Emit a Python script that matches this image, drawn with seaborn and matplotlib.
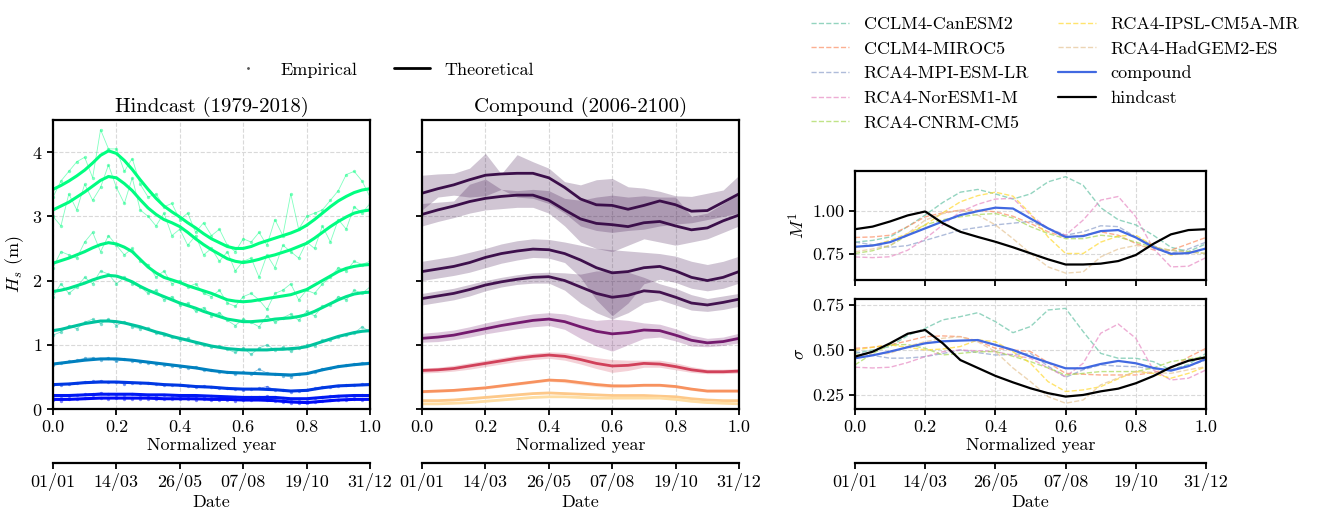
import numpy as np
import matplotlib
matplotlib.use('Agg')
import matplotlib.pyplot as plt
import seaborn as sns
from matplotlib.lines import Line2D
from matplotlib.ticker import FormatStrFormatter

# ---------------- data ----------------
date_ticks = [0.0, 0.2, 0.4, 0.6, 0.8, 1.0]
date_labels = ['01/01', '14/03', '26/05', '07/08', '19/10', '31/12']

# Hindcast theoretical quantile curves (top to bottom)
hc_q1 = [3.42, 3.48, 3.55, 3.63, 3.72, 3.83, 3.95, 4.02, 3.98, 3.87, 3.73, 3.57, 3.42, 3.28, 3.16, 3.07, 2.99, 2.90, 2.82, 2.73, 2.65,
         2.59, 2.53, 2.50, 2.50, 2.53, 2.58, 2.62, 2.66, 2.70, 2.74, 2.79, 2.86, 2.95, 3.05, 3.15, 3.24, 3.31, 3.37, 3.41, 3.43]
hc_q2 = [3.10, 3.16, 3.22, 3.30, 3.38, 3.47, 3.56, 3.62, 3.60, 3.51, 3.40, 3.26, 3.13, 3.03, 2.95, 2.90, 2.84, 2.75, 2.65, 2.56, 2.48,
         2.41, 2.34, 2.30, 2.28, 2.30, 2.33, 2.37, 2.40, 2.44, 2.48, 2.53, 2.58, 2.66, 2.75, 2.84, 2.92, 2.99, 3.05, 3.08, 3.10]
hc_q3 = [2.27, 2.31, 2.35, 2.40, 2.45, 2.51, 2.56, 2.59, 2.57, 2.52, 2.45, 2.33, 2.21, 2.12, 2.05, 2.01, 1.97, 1.92, 1.88, 1.84, 1.80,
         1.75, 1.70, 1.68, 1.67, 1.68, 1.70, 1.72, 1.74, 1.76, 1.78, 1.82, 1.86, 1.93, 2.00, 2.07, 2.14, 2.19, 2.22, 2.24, 2.25]
hc_q4 = [1.83, 1.85, 1.88, 1.92, 1.96, 2.01, 2.05, 2.08, 2.07, 2.03, 1.98, 1.91, 1.85, 1.80, 1.75, 1.70, 1.65, 1.61, 1.57, 1.52, 1.48,
         1.44, 1.40, 1.38, 1.36, 1.36, 1.37, 1.38, 1.40, 1.41, 1.42, 1.44, 1.47, 1.52, 1.58, 1.64, 1.70, 1.75, 1.79, 1.81, 1.82]
hc_q5 = [1.22, 1.24, 1.27, 1.30, 1.33, 1.35, 1.37, 1.37, 1.36, 1.34, 1.31, 1.28, 1.24, 1.20, 1.17, 1.13, 1.10, 1.07, 1.04, 1.01, 0.98,
         0.96, 0.94, 0.93, 0.92, 0.92, 0.92, 0.92, 0.93, 0.93, 0.94, 0.95, 0.97, 1.01, 1.05, 1.09, 1.13, 1.16, 1.19, 1.21, 1.22]
hc_q6 = [0.70, 0.73, 0.76, 0.78, 0.78, 0.76, 0.73, 0.70, 0.67, 0.64, 0.60, 0.57, 0.56, 0.55, 0.54, 0.53, 0.55, 0.61, 0.66, 0.69, 0.71]
hc_q7 = [0.38, 0.39, 0.41, 0.42, 0.42, 0.41, 0.40, 0.38, 0.37, 0.35, 0.34, 0.32, 0.31, 0.31, 0.30, 0.28, 0.29, 0.33, 0.36, 0.37, 0.38]
hc_q8 = [0.21, 0.21, 0.22, 0.23, 0.23, 0.23, 0.22, 0.22, 0.21, 0.21, 0.20, 0.19, 0.18, 0.18, 0.18, 0.16, 0.16, 0.18, 0.20, 0.21, 0.21]
hc_q9 = [0.15, 0.15, 0.16, 0.17, 0.17, 0.17, 0.17, 0.16, 0.16, 0.16, 0.15, 0.15, 0.14, 0.14, 0.13, 0.11, 0.10, 0.12, 0.14, 0.15, 0.15]

# Hindcast empirical quantiles
em_q1 = [3.30, 3.55, 3.70, 3.85, 3.92, 3.60, 4.35, 4.05, 4.05, 3.70, 3.90, 3.50, 3.30, 3.35, 3.15, 3.20, 2.95, 3.05, 2.75, 2.90, 2.70,
         2.80, 2.55, 2.45, 2.65, 2.60, 2.75, 2.55, 2.95, 2.70, 3.35, 2.80, 3.00, 3.05, 3.10, 3.25, 3.40, 3.65, 3.70, 3.55, 3.30]
em_q2 = [3.00, 2.85, 3.35, 3.10, 3.50, 3.25, 3.45, 3.80, 3.45, 3.20, 3.60, 3.10, 3.00, 2.85, 3.05, 2.70, 2.80, 2.55, 2.70, 2.40, 2.50,
         2.30, 2.45, 2.15, 2.30, 2.35, 2.05, 2.40, 2.20, 2.55, 2.45, 2.35, 2.60, 2.50, 2.85, 2.60, 2.95, 2.80, 3.15, 3.05, 3.20]
em_q3 = [2.20, 2.45, 2.40, 2.35, 2.60, 2.75, 2.45, 2.70, 2.55, 2.40, 2.50, 2.30, 2.25, 2.05, 2.15, 1.95, 2.00, 1.90, 1.95, 1.80, 1.75,
         1.85, 1.65, 1.60, 1.75, 1.80, 1.70, 1.55, 1.80, 1.85, 1.95, 1.70, 1.85, 1.80, 1.95, 2.05, 2.20, 2.15, 2.30, 2.25, 2.30]
em_q4 = [1.75, 1.95, 1.80, 1.90, 2.05, 1.95, 2.15, 2.10, 1.95, 2.05, 1.95, 1.90, 1.80, 1.85, 1.70, 1.75, 1.62, 1.65, 1.52, 1.58, 1.45,
         1.50, 1.38, 1.30, 1.40, 1.35, 1.28, 1.45, 1.35, 1.42, 1.48, 1.38, 1.52, 1.45, 1.60, 1.62, 1.75, 1.70, 1.85, 1.80, 1.90]
em_q5 = [1.15, 1.20, 1.30, 1.25, 1.35, 1.40, 1.33, 1.40, 1.30, 1.36, 1.28, 1.25, 1.26, 1.18, 1.15, 1.12, 1.08, 1.10, 1.02, 1.00, 0.97,
         0.98, 0.93, 0.88, 0.95, 0.85, 0.95, 1.00, 0.92, 0.96, 0.90, 0.95, 1.00, 0.98, 1.07, 1.08, 1.12, 1.15, 1.18, 1.28, 1.20]
em_q6 = [0.68, 0.72, 0.74, 0.76, 0.79, 0.80, 0.77, 0.80, 0.74, 0.78, 0.75, 0.73, 0.72, 0.70, 0.69, 0.67, 0.66, 0.64, 0.66, 0.60, 0.61,
         0.58, 0.57, 0.54, 0.57, 0.55, 0.62, 0.56, 0.55, 0.52, 0.50, 0.55, 0.56, 0.58, 0.63, 0.64, 0.67, 0.68, 0.70, 0.72, 0.73]
em_q7 = [0.37, 0.38, 0.39, 0.41, 0.42, 0.43, 0.44, 0.42, 0.42, 0.39, 0.41, 0.40, 0.41, 0.39, 0.38, 0.37, 0.37, 0.36, 0.35, 0.36, 0.34,
         0.33, 0.32, 0.31, 0.30, 0.31, 0.32, 0.35, 0.30, 0.29, 0.27, 0.28, 0.30, 0.32, 0.34, 0.35, 0.36, 0.37, 0.37, 0.39, 0.40]
em_q8 = [0.21, 0.20, 0.21, 0.22, 0.23, 0.24, 0.25, 0.23, 0.22, 0.22, 0.23, 0.22, 0.22, 0.21, 0.22, 0.21, 0.21, 0.20, 0.20, 0.19, 0.20,
         0.19, 0.18, 0.18, 0.17, 0.18, 0.19, 0.20, 0.18, 0.17, 0.15, 0.15, 0.16, 0.17, 0.19, 0.20, 0.21, 0.21, 0.21, 0.22, 0.22]
em_q9 = [0.14, 0.13, 0.15, 0.16, 0.17, 0.18, 0.17, 0.16, 0.17, 0.16, 0.16, 0.16, 0.16, 0.15, 0.16, 0.15, 0.15, 0.15, 0.14, 0.15, 0.14,
         0.14, 0.14, 0.13, 0.14, 0.14, 0.15, 0.14, 0.12, 0.11, 0.10, 0.09, 0.10, 0.11, 0.13, 0.14, 0.14, 0.14, 0.15, 0.14, 0.15]

# Compound (2006-2100) quantile curves
cp_q1 = [3.36, 3.43, 3.49, 3.57, 3.64, 3.66, 3.67, 3.67, 3.60, 3.45, 3.27, 3.18, 3.17, 3.11, 3.17, 3.24, 3.18, 3.08, 3.09, 3.22, 3.35]
cp_q2 = [3.03, 3.10, 3.16, 3.23, 3.28, 3.31, 3.33, 3.33, 3.25, 3.10, 2.96, 2.89, 2.87, 2.84, 2.90, 2.92, 2.85, 2.79, 2.82, 2.93, 3.02]
cp_q3 = [2.14, 2.18, 2.22, 2.28, 2.36, 2.42, 2.46, 2.49, 2.48, 2.42, 2.32, 2.20, 2.12, 2.14, 2.20, 2.22, 2.15, 2.05, 2.00, 2.05, 2.14]
cp_q4 = [1.72, 1.76, 1.80, 1.86, 1.93, 1.98, 2.02, 2.05, 2.06, 2.00, 1.90, 1.80, 1.74, 1.77, 1.84, 1.82, 1.74, 1.65, 1.62, 1.66, 1.71]
cp_q5 = [1.10, 1.12, 1.15, 1.20, 1.25, 1.30, 1.34, 1.38, 1.40, 1.36, 1.28, 1.21, 1.17, 1.19, 1.23, 1.22, 1.15, 1.07, 1.03, 1.05, 1.10]
cp_q6 = [0.60, 0.61, 0.63, 0.67, 0.71, 0.75, 0.79, 0.82, 0.84, 0.82, 0.77, 0.71, 0.67, 0.68, 0.71, 0.70, 0.66, 0.61, 0.58, 0.58, 0.59]
cp_q7 = [0.27, 0.28, 0.29, 0.31, 0.33, 0.36, 0.39, 0.42, 0.45, 0.44, 0.41, 0.38, 0.36, 0.36, 0.37, 0.37, 0.35, 0.31, 0.28, 0.28, 0.28]
cp_q8 = [0.13, 0.13, 0.14, 0.16, 0.18, 0.20, 0.22, 0.24, 0.25, 0.24, 0.23, 0.22, 0.21, 0.21, 0.21, 0.20, 0.19, 0.16, 0.14, 0.13, 0.13]
cp_q9 = [0.08, 0.08, 0.09, 0.10, 0.12, 0.14, 0.16, 0.18, 0.19, 0.19, 0.18, 0.17, 0.17, 0.17, 0.17, 0.17, 0.15, 0.12, 0.10, 0.09, 0.08]

# Compound model spread (upper / lower envelopes)
cp_q1_up = [3.64, 3.66, 3.67, 3.75, 3.98, 3.66, 3.96, 3.85, 3.75, 3.54, 3.49, 3.57, 3.59, 3.46, 3.44, 3.39, 3.32, 3.31, 3.36, 3.41, 3.64]
cp_q1_lo = [3.10, 3.30, 3.33, 3.30, 3.32, 3.42, 3.30, 3.28, 3.20, 3.05, 2.85, 2.78, 2.75, 2.78, 2.80, 2.85, 2.88, 2.90, 2.95, 3.00, 3.05]
cp_q2_up = [3.20, 3.22, 3.24, 3.50, 3.58, 3.42, 3.40, 3.42, 3.40, 3.28, 3.25, 3.30, 3.33, 3.30, 3.32, 3.30, 3.30, 3.00, 3.05, 3.20, 3.35]
cp_q2_lo = [2.85, 2.92, 2.98, 3.05, 3.10, 3.12, 3.14, 3.14, 3.05, 2.85, 2.60, 2.50, 2.45, 2.55, 2.65, 2.60, 2.55, 2.60, 2.65, 2.75, 2.85]
cp_q3_up = [2.30, 2.34, 2.38, 2.44, 2.50, 2.57, 2.62, 2.65, 2.64, 2.60, 2.55, 2.50, 2.48, 2.46, 2.44, 2.42, 2.38, 2.30, 2.25, 2.30, 2.38]
cp_q3_lo = [2.00, 2.04, 2.08, 2.13, 2.20, 2.27, 2.32, 2.36, 2.35, 2.28, 2.05, 1.70, 1.45, 1.65, 1.95, 2.02, 1.97, 1.88, 1.84, 1.88, 1.96]
cp_q4_up = [1.80, 1.84, 1.88, 1.94, 2.00, 2.05, 2.09, 2.12, 2.13, 2.12, 2.10, 2.15, 2.15, 2.13, 2.05, 1.95, 1.88, 1.78, 1.72, 1.76, 1.80]
cp_q4_lo = [1.62, 1.66, 1.70, 1.76, 1.84, 1.90, 1.94, 1.96, 1.96, 1.85, 1.65, 1.50, 1.40, 1.50, 1.65, 1.70, 1.62, 1.54, 1.52, 1.55, 1.60]
cp_q5_up = [1.18, 1.20, 1.23, 1.28, 1.34, 1.39, 1.44, 1.48, 1.50, 1.48, 1.42, 1.38, 1.40, 1.38, 1.34, 1.32, 1.25, 1.15, 1.10, 1.12, 1.18]
cp_q5_lo = [1.04, 1.05, 1.08, 1.12, 1.17, 1.21, 1.25, 1.28, 1.30, 1.24, 1.10, 0.98, 0.90, 1.00, 1.10, 1.12, 1.06, 0.98, 0.97, 0.99, 1.03]
cp_q6_up = [0.64, 0.65, 0.68, 0.72, 0.76, 0.80, 0.84, 0.87, 0.89, 0.88, 0.84, 0.80, 0.77, 0.76, 0.76, 0.76, 0.72, 0.66, 0.62, 0.62, 0.63]
cp_q6_lo = [0.56, 0.57, 0.59, 0.62, 0.66, 0.70, 0.74, 0.77, 0.79, 0.76, 0.70, 0.63, 0.57, 0.60, 0.65, 0.65, 0.61, 0.57, 0.55, 0.55, 0.56]
cp_q7_up = [0.29, 0.30, 0.31, 0.33, 0.35, 0.38, 0.41, 0.44, 0.48, 0.47, 0.44, 0.41, 0.39, 0.38, 0.39, 0.39, 0.37, 0.33, 0.30, 0.30, 0.30]
cp_q7_lo = [0.25, 0.26, 0.27, 0.29, 0.31, 0.34, 0.37, 0.40, 0.43, 0.41, 0.38, 0.35, 0.33, 0.34, 0.35, 0.35, 0.33, 0.29, 0.26, 0.26, 0.26]
cp_q8_up = [0.14, 0.14, 0.15, 0.17, 0.19, 0.21, 0.23, 0.25, 0.27, 0.26, 0.25, 0.23, 0.22, 0.22, 0.22, 0.21, 0.20, 0.17, 0.15, 0.14, 0.14]
cp_q8_lo = [0.12, 0.12, 0.13, 0.15, 0.17, 0.19, 0.21, 0.23, 0.24, 0.23, 0.22, 0.21, 0.20, 0.20, 0.20, 0.19, 0.18, 0.15, 0.13, 0.12, 0.12]
cp_q9_up = [0.09, 0.09, 0.10, 0.11, 0.13, 0.15, 0.17, 0.19, 0.20, 0.20, 0.19, 0.18, 0.18, 0.18, 0.18, 0.18, 0.16, 0.13, 0.11, 0.10, 0.09]
cp_q9_lo = [0.07, 0.07, 0.08, 0.09, 0.11, 0.13, 0.15, 0.17, 0.18, 0.18, 0.17, 0.16, 0.16, 0.16, 0.16, 0.16, 0.14, 0.11, 0.09, 0.08, 0.07]

# Right panels: location parameter M^1 and scale sigma
models = ['CCLM4-CanESM2', 'CCLM4-MIROC5', 'RCA4-MPI-ESM-LR', 'RCA4-NorESM1-M',
          'RCA4-CNRM-CM5', 'RCA4-IPSL-CM5A-MR', 'RCA4-HadGEM2-ES']
m_canesm = [0.82, 0.83, 0.85, 0.91, 0.977, 1.05, 1.11, 1.126, 1.10, 1.07, 1.10, 1.17, 1.20, 1.15, 1.02, 0.95, 0.92, 0.86, 0.79, 0.765, 0.81]
m_miroc = [0.847, 0.85, 0.86, 0.91, 0.967, 0.99, 1.006, 1.005, 0.996, 0.97, 0.928, 0.88, 0.847, 0.86, 0.88, 0.86, 0.812, 0.775, 0.773, 0.81, 0.847]
m_mpi = [0.82, 0.805, 0.79, 0.80, 0.83, 0.86, 0.89, 0.905, 0.92, 0.93, 0.94, 0.90, 0.86, 0.88, 0.915, 0.91, 0.85, 0.80, 0.755, 0.78, 0.82]
m_noresm = [0.734, 0.73, 0.735, 0.773, 0.84, 0.92, 0.996, 1.04, 1.07, 1.074, 0.977, 0.90, 0.86, 0.948, 1.064, 1.085, 0.967, 0.783, 0.676, 0.68, 0.73]
m_cnrm = [0.754, 0.77, 0.80, 0.86, 0.92, 0.95, 0.967, 0.98, 0.986, 0.96, 0.91, 0.87, 0.84, 0.84, 0.86, 0.85, 0.82, 0.79, 0.773, 0.765, 0.754]
m_ipsl = [0.79, 0.80, 0.83, 0.87, 0.92, 0.99, 1.054, 1.09, 1.11, 1.087, 0.986, 0.85, 0.754, 0.754, 0.82, 0.855, 0.86, 0.80, 0.744, 0.76, 0.783]
m_hadgem = [0.764, 0.78, 0.80, 0.87, 0.948, 0.985, 1.006, 0.977, 0.92, 0.84, 0.754, 0.676, 0.64, 0.647, 0.734, 0.78, 0.80, 0.79, 0.773, 0.76, 0.754]
m_compound = [0.793, 0.80, 0.82, 0.86, 0.90, 0.94, 0.977, 1.00, 1.02, 1.015, 0.957, 0.90, 0.85, 0.855, 0.884, 0.89, 0.847, 0.79, 0.752, 0.756, 0.783]
m_hindcast = [0.895, 0.91, 0.94, 0.975, 0.998, 0.93, 0.88, 0.85, 0.822, 0.79, 0.755, 0.72, 0.69, 0.69, 0.695, 0.71, 0.745, 0.81, 0.865, 0.89, 0.895]

s_canesm = [0.481, 0.50, 0.519, 0.58, 0.62, 0.667, 0.685, 0.707, 0.657, 0.596, 0.63, 0.722, 0.731, 0.602, 0.481, 0.454, 0.454, 0.435, 0.389, 0.42, 0.481]
s_miroc = [0.509, 0.515, 0.528, 0.55, 0.574, 0.578, 0.574, 0.55, 0.509, 0.50, 0.491, 0.43, 0.37, 0.365, 0.361, 0.361, 0.361, 0.375, 0.398, 0.46, 0.509]
s_mpi = [0.491, 0.47, 0.454, 0.455, 0.463, 0.48, 0.50, 0.485, 0.472, 0.475, 0.481, 0.41, 0.348, 0.39, 0.417, 0.41, 0.407, 0.395, 0.389, 0.41, 0.444]
s_noresm = [0.404, 0.40, 0.404, 0.43, 0.463, 0.49, 0.50, 0.495, 0.491, 0.47, 0.454, 0.40, 0.352, 0.426, 0.593, 0.644, 0.565, 0.389, 0.333, 0.343, 0.389]
s_cnrm = [0.417, 0.48, 0.528, 0.53, 0.509, 0.472, 0.481, 0.49, 0.491, 0.465, 0.435, 0.40, 0.361, 0.37, 0.38, 0.38, 0.38, 0.40, 0.435, 0.45, 0.463]
s_ipsl = [0.50, 0.515, 0.528, 0.515, 0.50, 0.505, 0.519, 0.556, 0.546, 0.49, 0.426, 0.324, 0.269, 0.278, 0.296, 0.34, 0.38, 0.37, 0.343, 0.37, 0.407]
s_hadgem = [0.472, 0.475, 0.481, 0.52, 0.546, 0.565, 0.574, 0.545, 0.491, 0.40, 0.324, 0.241, 0.204, 0.222, 0.306, 0.345, 0.38, 0.375, 0.37, 0.39, 0.407]
s_compound = [0.454, 0.47, 0.491, 0.515, 0.537, 0.548, 0.552, 0.555, 0.528, 0.50, 0.463, 0.43, 0.398, 0.398, 0.422, 0.439, 0.426, 0.40, 0.385, 0.41, 0.45]
s_hindcast = [0.463, 0.49, 0.537, 0.59, 0.611, 0.537, 0.444, 0.40, 0.356, 0.32, 0.287, 0.26, 0.241, 0.25, 0.27, 0.285, 0.315, 0.355, 0.404, 0.44, 0.459]

# ---------------- style ----------------
sns.set_theme(style='ticks')
plt.rcParams.update({
    'font.family': ['cmr10', 'DejaVu Serif'],
    'mathtext.fontset': 'cm',
    'axes.formatter.use_mathtext': True,
    'axes.unicode_minus': False,
    'font.size': 13,
    'axes.linewidth': 1.6,
    'xtick.major.width': 1.3, 'ytick.major.width': 1.3,
    'xtick.major.size': 4, 'ytick.major.size': 4,
    'xtick.labelsize': 13, 'ytick.labelsize': 13,
    'axes.labelsize': 13, 'axes.titlesize': 15,
    'axes.edgecolor': 'black', 'xtick.color': 'black', 'ytick.color': 'black',
    'text.color': 'black', 'axes.labelcolor': 'black',
})

W, H = 1320, 511
fig = plt.figure(figsize=(W / 100, H / 100), dpi=100)


def px_axes(x0, y0, x1, y1, **kw):
    return fig.add_axes([x0 / W, 1 - y1 / H, (x1 - x0) / W, (y1 - y0) / H], **kw)


ax1 = px_axes(53, 120, 370, 409)
ax2 = px_axes(422, 120, 739, 409, sharey=ax1)
ax3 = px_axes(855, 171, 1206, 280)
ax4 = px_axes(855, 299, 1206, 409)


def xgrid(y):
    return np.linspace(0, 1, len(y))


def grid(ax):
    ax.grid(True, linestyle='--', color='#d9d9d9', linewidth=0.8)
    ax.set_axisbelow(True)


def date_axis(ax, loc):
    sec = ax.secondary_xaxis(loc)
    sec.set_xticks(date_ticks)
    sec.set_xticklabels(date_labels)
    sec.set_xlabel('Date', labelpad=2)
    sec.spines['bottom'].set_linewidth(1.6)
    sec.tick_params(width=1.3, length=4)
    return sec


# ---- Hindcast panel ----
hc_theo = [hc_q1, hc_q2, hc_q3, hc_q4, hc_q5, hc_q6, hc_q7, hc_q8, hc_q9]
hc_emp = [em_q1, em_q2, em_q3, em_q4, em_q5, em_q6, em_q7, em_q8, em_q9]
wint = plt.get_cmap('winter')
hc_levels = [1.0, 0.99, 0.96, 0.9, 0.76, 0.5, 0.22, 0.1, 0.05]
for th, em, lv in zip(hc_theo, hc_emp, hc_levels):
    c = wint(lv)
    sns.lineplot(x=xgrid(em), y=em, ax=ax1, color=c, alpha=0.5, lw=0.6, marker='o',
                 markersize=2.4, markeredgewidth=0, sort=False, estimator=None)
    sns.lineplot(x=xgrid(th), y=th, ax=ax1, color=c, lw=2.2, sort=False, estimator=None)
ax1.set_xlim(0, 1)
ax1.set_ylim(0, 4.5)
ax1.set_yticks([0, 1, 2, 3, 4])
ax1.set_xticks(date_ticks)
ax1.xaxis.set_major_formatter(FormatStrFormatter('%.1f'))
ax1.set_title('Hindcast (1979-2018)', pad=6)
ax1.set_xlabel('Normalized year', labelpad=2)
ax1.set_ylabel('$H_s$ (m)')
grid(ax1)
date_axis(ax1, (409 - 463) / 289)

# ---- Compound panel ----
cp_mid = [cp_q1, cp_q2, cp_q3, cp_q4, cp_q5, cp_q6, cp_q7, cp_q8, cp_q9]
cp_up = [cp_q1_up, cp_q2_up, cp_q3_up, cp_q4_up, cp_q5_up, cp_q6_up, cp_q7_up, cp_q8_up, cp_q9_up]
cp_lo = [cp_q1_lo, cp_q2_lo, cp_q3_lo, cp_q4_lo, cp_q5_lo, cp_q6_lo, cp_q7_lo, cp_q8_lo, cp_q9_lo]
cp_colors = ['#3b0f4a', '#3b0f4a', '#3d104c', '#42124f', '#741a6e', '#d1415a', '#f7925f', '#fdc889', '#fedda3']
for mid, up, lo, c in zip(cp_mid, cp_up, cp_lo, cp_colors):
    ax2.fill_between(xgrid(mid), lo, up, color=c, alpha=0.24, linewidth=0)
for mid, c in zip(cp_mid, cp_colors):
    sns.lineplot(x=xgrid(mid), y=mid, ax=ax2, color=c, lw=2.0, sort=False, estimator=None)
ax2.set_xlim(0, 1)
ax2.set_xticks(date_ticks)
ax2.xaxis.set_major_formatter(FormatStrFormatter('%.1f'))
ax2.tick_params(labelleft=False)
ax2.set_title('Compound (2006-2100)', pad=6)
ax2.set_xlabel('Normalized year', labelpad=2)
ax2.set_ylabel('')
grid(ax2)
date_axis(ax2, (409 - 463) / 289)

# ---- Right panels ----
model_colors = ['#66c2a5', '#fc8d62', '#8da0cb', '#e78ac3', '#a6d854', '#ffd92f', '#e5c494']
m_models = [m_canesm, m_miroc, m_mpi, m_noresm, m_cnrm, m_ipsl, m_hadgem]
s_models = [s_canesm, s_miroc, s_mpi, s_noresm, s_cnrm, s_ipsl, s_hadgem]
for ax, series, comp, hind in [(ax3, m_models, m_compound, m_hindcast),
                                (ax4, s_models, s_compound, s_hindcast)]:
    for name, vals, c in zip(models, series, model_colors):
        sns.lineplot(x=xgrid(vals), y=vals, ax=ax, color=c, lw=1.0, ls='--', alpha=0.7,
                     label=name, sort=False, estimator=None, legend=False)
    sns.lineplot(x=xgrid(comp), y=comp, ax=ax, color='#4169e1', lw=1.6, label='compound',
                 sort=False, estimator=None, legend=False)
    sns.lineplot(x=xgrid(hind), y=hind, ax=ax, color='black', lw=1.6, label='hindcast',
                 sort=False, estimator=None, legend=False)
    ax.set_xlim(0, 1)
    ax.set_xticks(date_ticks)
    ax.xaxis.set_major_formatter(FormatStrFormatter('%.1f'))
    grid(ax)

ax3.set_ylim(0.60, 1.233)
ax3.set_yticks([0.75, 1.00])
ax3.yaxis.set_major_formatter(FormatStrFormatter('%.2f'))
ax3.tick_params(labelbottom=False)
ax3.set_xlabel('')
ax3.set_ylabel('$M^1$')

ax4.set_ylim(0.172, 0.783)
ax4.set_yticks([0.25, 0.50, 0.75])
ax4.yaxis.set_major_formatter(FormatStrFormatter('%.2f'))
ax4.set_xlabel('Normalized year', labelpad=2)
ax4.set_ylabel('$\\sigma$')
date_axis(ax4, (409 - 463) / 110)

# ---- legends ----
leg_handles = [Line2D([], [], marker='.', color='#555555', ls='None', markersize=2),
               Line2D([], [], color='black', lw=2)]
fig.legend(leg_handles, ['Empirical', 'Theoretical'], loc='center', ncol=2,
           bbox_to_anchor=(382 / W, 1 - 70 / H), frameon=False, fontsize=13,
           handlelength=2.0, columnspacing=2.0)

h, l = ax3.get_legend_handles_labels()
fig.legend(h, l, loc='upper left', ncol=2, bbox_to_anchor=(795 / W, 1.0),
           frameon=False, fontsize=13, handlelength=2.1, labelspacing=0.5,
           columnspacing=1.6)

fig.savefig('out.png', dpi=100)
